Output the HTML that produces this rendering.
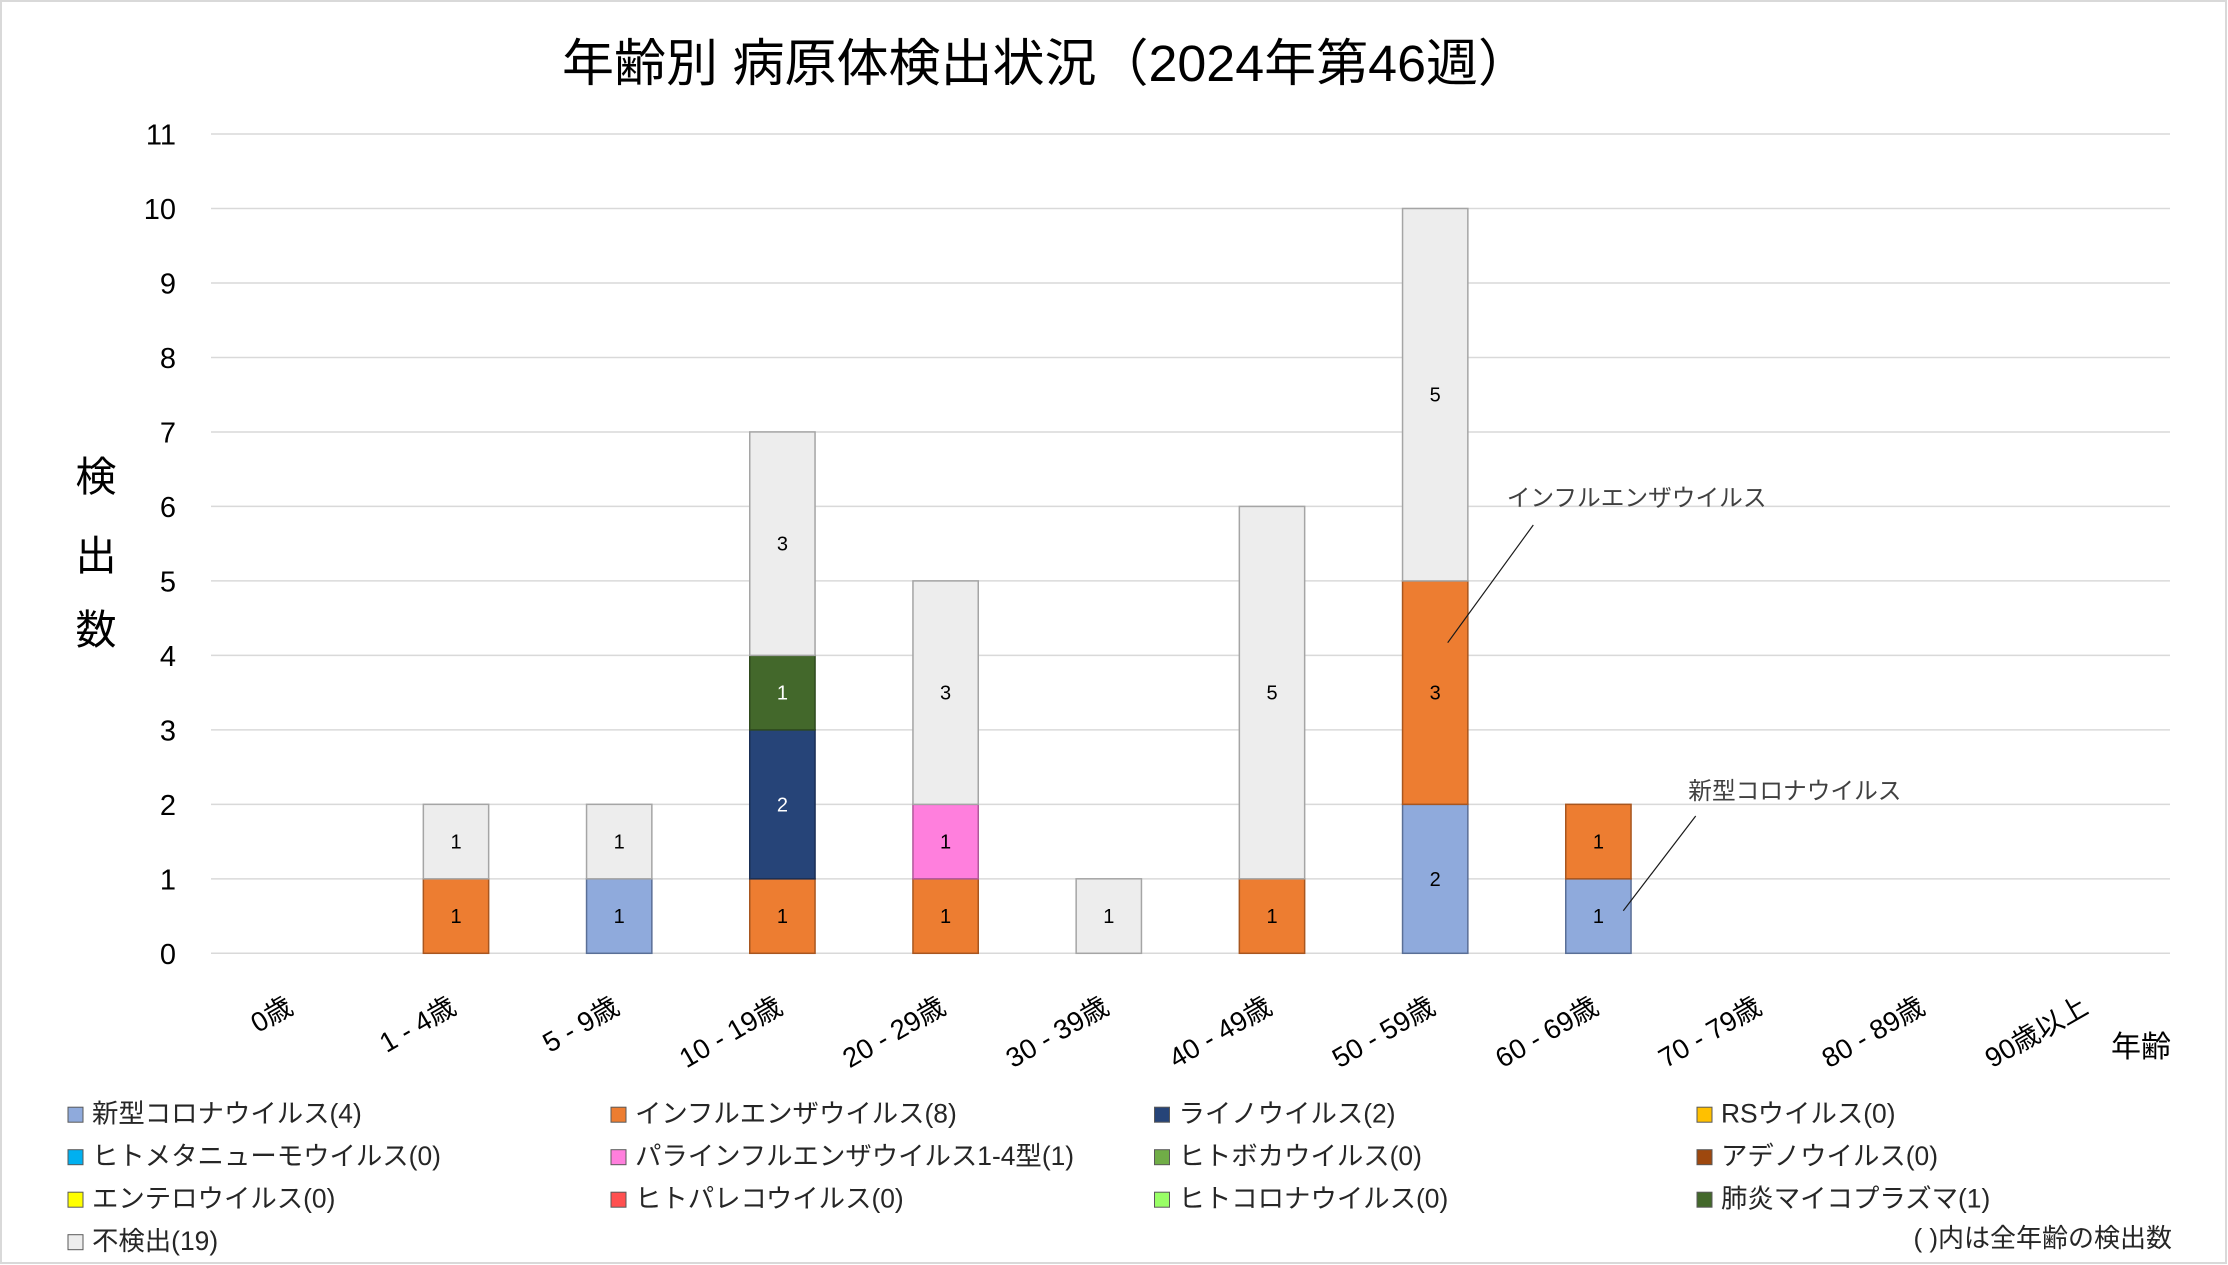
<!DOCTYPE html>
<html><head><meta charset="utf-8"><style>
html,body{margin:0;padding:0;background:#fff;}
svg{display:block;}
text{font-family:"Liberation Sans","Noto Sans CJK JP",sans-serif;}
</style></head><body>
<svg width="2228" height="1265" viewBox="0 0 2228 1265" xmlns="http://www.w3.org/2000/svg">
<rect x="0" y="0" width="2228" height="1265" fill="#fff"/>
<rect x="1" y="1" width="2225" height="1262" fill="none" stroke="#d9d9d9" stroke-width="2"/>

<!-- title -->
<text x="562" y="81" font-size="51" fill="#000" textLength="968" lengthAdjust="spacingAndGlyphs">年齢別 病原体検出状況（2024年第46週）</text>

<!-- gridlines -->
<g stroke="#d9d9d9" stroke-width="1.5">
<line x1="211" x2="2170" y1="953.3" y2="953.3"/>
<line x1="211" x2="2170" y1="878.82" y2="878.82"/>
<line x1="211" x2="2170" y1="804.34" y2="804.34"/>
<line x1="211" x2="2170" y1="729.86" y2="729.86"/>
<line x1="211" x2="2170" y1="655.38" y2="655.38"/>
<line x1="211" x2="2170" y1="580.9" y2="580.9"/>
<line x1="211" x2="2170" y1="506.42" y2="506.42"/>
<line x1="211" x2="2170" y1="431.94" y2="431.94"/>
<line x1="211" x2="2170" y1="357.46" y2="357.46"/>
<line x1="211" x2="2170" y1="282.98" y2="282.98"/>
<line x1="211" x2="2170" y1="208.5" y2="208.5"/>
<line x1="211" x2="2170" y1="134.02" y2="134.02"/>
</g>

<!-- y tick labels -->
<g font-size="29" fill="#000" text-anchor="end">
<text x="176" y="963.8">0</text>
<text x="176" y="889.3">1</text>
<text x="176" y="814.8">2</text>
<text x="176" y="740.4">3</text>
<text x="176" y="665.9">4</text>
<text x="176" y="591.4">5</text>
<text x="176" y="516.9">6</text>
<text x="176" y="442.4">7</text>
<text x="176" y="368">8</text>
<text x="176" y="293.5">9</text>
<text x="176" y="219">10</text>
<text x="176" y="144.5">11</text>
</g>

<!-- y axis title -->
<g font-size="41" fill="#000" text-anchor="middle">
<text x="96" y="491">検</text>
<text x="96" y="570">出</text>
<text x="96" y="644">数</text>
</g>

<!-- bars -->
<g stroke-width="1.5">
<rect x="423.35" y="878.82" width="65.3" height="74.48" fill="#ED7D31" stroke="#a8561f"/>
<rect x="423.35" y="804.34" width="65.3" height="74.48" fill="#EDEDED" stroke="#a5a5a5"/>
<rect x="586.55" y="878.82" width="65.3" height="74.48" fill="#8FAADC" stroke="#5a6f96"/>
<rect x="586.55" y="804.34" width="65.3" height="74.48" fill="#EDEDED" stroke="#a5a5a5"/>
<rect x="749.75" y="878.82" width="65.3" height="74.48" fill="#ED7D31" stroke="#a8561f"/>
<rect x="749.75" y="729.86" width="65.3" height="148.96" fill="#264478" stroke="#1a2f55"/>
<rect x="749.75" y="655.38" width="65.3" height="74.48" fill="#43682B" stroke="#2f4a1e"/>
<rect x="749.75" y="431.94" width="65.3" height="223.44" fill="#EDEDED" stroke="#a5a5a5"/>
<rect x="912.95" y="878.82" width="65.3" height="74.48" fill="#ED7D31" stroke="#a8561f"/>
<rect x="912.95" y="804.34" width="65.3" height="74.48" fill="#FF7FDD" stroke="#b0589a"/>
<rect x="912.95" y="580.9" width="65.3" height="223.44" fill="#EDEDED" stroke="#a5a5a5"/>
<rect x="1076.15" y="878.82" width="65.3" height="74.48" fill="#EDEDED" stroke="#a5a5a5"/>
<rect x="1239.35" y="878.82" width="65.3" height="74.48" fill="#ED7D31" stroke="#a8561f"/>
<rect x="1239.35" y="506.42" width="65.3" height="372.4" fill="#EDEDED" stroke="#a5a5a5"/>
<rect x="1402.55" y="804.34" width="65.3" height="148.96" fill="#8FAADC" stroke="#5a6f96"/>
<rect x="1402.55" y="580.9" width="65.3" height="223.44" fill="#ED7D31" stroke="#a8561f"/>
<rect x="1402.55" y="208.5" width="65.3" height="372.4" fill="#EDEDED" stroke="#a5a5a5"/>
<rect x="1565.75" y="878.82" width="65.3" height="74.48" fill="#8FAADC" stroke="#5a6f96"/>
<rect x="1565.75" y="804.34" width="65.3" height="74.48" fill="#ED7D31" stroke="#a8561f"/>
</g>

<!-- data labels -->
<g font-size="20" fill="#000" text-anchor="middle">
<text x="456" y="923">1</text>
<text x="456" y="848.6">1</text>
<text x="619.2" y="923">1</text>
<text x="619.2" y="848.6">1</text>
<text x="782.4" y="923">1</text>
<text x="782.4" y="811.3" fill="#fff">2</text>
<text x="782.4" y="699.6" fill="#fff">1</text>
<text x="782.4" y="550.7">3</text>
<text x="945.6" y="923">1</text>
<text x="945.6" y="848.6">1</text>
<text x="945.6" y="699.6">3</text>
<text x="1108.8" y="923">1</text>
<text x="1272" y="923">1</text>
<text x="1272" y="699.6">5</text>
<text x="1435.2" y="885.8">2</text>
<text x="1435.2" y="699.6">3</text>
<text x="1435.2" y="401.7">5</text>
<text x="1598.4" y="923">1</text>
<text x="1598.4" y="848.6">1</text>
</g>

<!-- annotations -->
<g stroke="#1a1a1a" stroke-width="1.2">
<line x1="1533.3" y1="525" x2="1447.7" y2="642.7"/>
<line x1="1695.7" y1="816" x2="1623.3" y2="910.7"/>
</g>
<g font-size="23.7" fill="#404040">
<text x="1506.7" y="506">インフルエンザウイルス</text>
<text x="1688.3" y="799">新型コロナウイルス</text>
</g>

<!-- x category labels -->
<g font-size="27.5" fill="#000" text-anchor="end">
<text transform="translate(294.8,1012) rotate(-30)">0歳</text>
<text transform="translate(458,1012) rotate(-30)">1 - 4歳</text>
<text transform="translate(621.2,1012) rotate(-30)">5 - 9歳</text>
<text transform="translate(784.4,1012) rotate(-30)">10 - 19歳</text>
<text transform="translate(947.6,1012) rotate(-30)">20 - 29歳</text>
<text transform="translate(1110.8,1012) rotate(-30)">30 - 39歳</text>
<text transform="translate(1274,1012) rotate(-30)">40 - 49歳</text>
<text transform="translate(1437.2,1012) rotate(-30)">50 - 59歳</text>
<text transform="translate(1600.4,1012) rotate(-30)">60 - 69歳</text>
<text transform="translate(1763.6,1012) rotate(-30)">70 - 79歳</text>
<text transform="translate(1926.8,1012) rotate(-30)">80 - 89歳</text>
<text transform="translate(2090,1012) rotate(-30)">90歳以上</text>
</g>
<text x="2171" y="1057" font-size="30" fill="#000" text-anchor="end">年齢</text>

<!-- legend -->
<g stroke="#595959" stroke-width="1">
<rect x="68" y="1107.2" width="15" height="15" fill="#8FAADC"/>
<rect x="611" y="1107.2" width="15" height="15" fill="#ED7D31"/>
<rect x="1154.5" y="1107.2" width="15" height="15" fill="#264478"/>
<rect x="1697" y="1107.2" width="15" height="15" fill="#FFC000"/>
<rect x="68" y="1149.7" width="15" height="15" fill="#00B0F0"/>
<rect x="611" y="1149.7" width="15" height="15" fill="#FF7FDD"/>
<rect x="1154.5" y="1149.7" width="15" height="15" fill="#70AD47"/>
<rect x="1697" y="1149.7" width="15" height="15" fill="#9E480E"/>
<rect x="68" y="1192.2" width="15" height="15" fill="#FFFF00"/>
<rect x="611" y="1192.2" width="15" height="15" fill="#FF5050"/>
<rect x="1154.5" y="1192.2" width="15" height="15" fill="#99FF66"/>
<rect x="1697" y="1192.2" width="15" height="15" fill="#43682B"/>
<rect x="68" y="1234.7" width="15" height="15" fill="#EDEDED"/>
</g>
<g font-size="26.4" fill="#262626">
<text x="92" y="1122.5">新型コロナウイルス(4)</text>
<text x="635" y="1122.5">インフルエンザウイルス(8)</text>
<text x="1178.5" y="1122.5">ライノウイルス(2)</text>
<text x="1721" y="1122.5">RSウイルス(0)</text>
<text x="92" y="1165">ヒトメタニューモウイルス(0)</text>
<text x="635" y="1165">パラインフルエンザウイルス1-4型(1)</text>
<text x="1178.5" y="1165">ヒトボカウイルス(0)</text>
<text x="1721" y="1165">アデノウイルス(0)</text>
<text x="92" y="1207.5">エンテロウイルス(0)</text>
<text x="635" y="1207.5">ヒトパレコウイルス(0)</text>
<text x="1178.5" y="1207.5">ヒトコロナウイルス(0)</text>
<text x="1721" y="1207.5">肺炎マイコプラズマ(1)</text>
<text x="92" y="1250">不検出(19)</text>
</g>
<text x="2172" y="1247" font-size="26" fill="#262626" text-anchor="end">( )内は全年齢の検出数</text>
</svg>
</body></html>
